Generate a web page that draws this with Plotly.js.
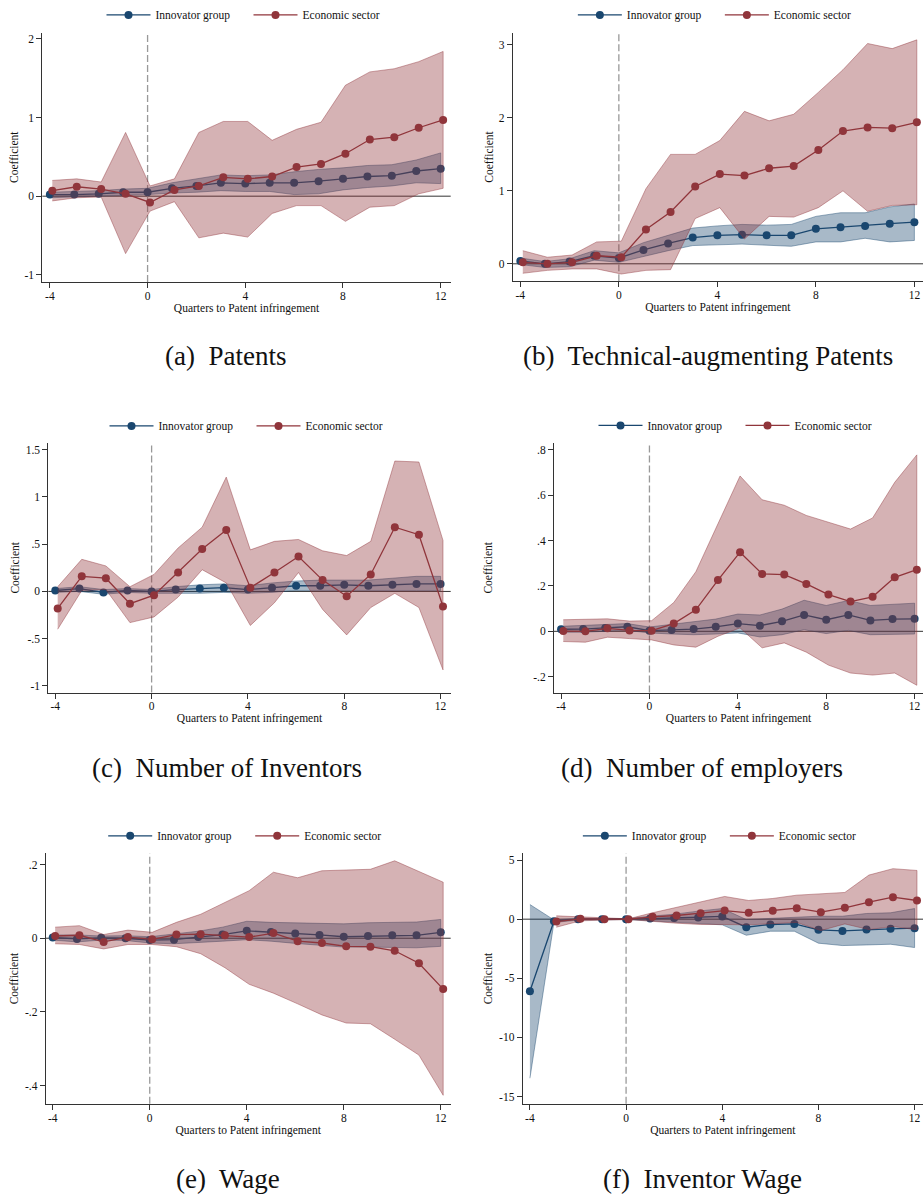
<!DOCTYPE html>
<html><head><meta charset="utf-8">
<script src="https://cdn.plot.ly/plotly-3.0.1.min.js"></script>
<style>html,body{margin:0;padding:0;background:#fff;overflow:hidden}#chart{width:923px;height:1196px}</style>
</head><body><div id="chart"></div>
<script>
// ---------------- DATA ----------------
const quarters = [-4,-3,-2,-1,0,1,2,3,4,5,6,7,8,9,10,11,12];
const xTickVals = [-4,0,4,8,12];
const xTickText = ['-4','0','4','8','12'];
const seriesNames = ['Innovator group','Economic sector'];
const xTitle = 'Quarters to Patent infringement';
const yTitle = 'Coefficient';
const captions = ['(a)\u00a0 Patents','(b)\u00a0 Technical-augmenting Patents','(c)\u00a0 Number of Inventors','(d)\u00a0 Number of employers','(e)\u00a0 Wage','(f)\u00a0 Inventor Wage'];

// (a) Patents
const aInn   = [0.02,0.02,0.03,0.05,0.05,0.10,0.13,0.17,0.16,0.17,0.17,0.19,0.22,0.25,0.26,0.32,0.35];
const aInnLo = [-0.02,-0.01,0.00,0.01,0.02,0.04,0.05,0.07,0.06,0.06,0.02,0.03,0.08,0.11,0.13,0.17,0.16];
const aInnHi = [0.05,0.06,0.07,0.09,0.10,0.17,0.22,0.27,0.26,0.27,0.31,0.34,0.36,0.39,0.40,0.46,0.55];
const aEco   = [0.07,0.12,0.09,0.03,-0.08,0.08,0.13,0.24,0.22,0.25,0.37,0.41,0.54,0.72,0.75,0.87,0.97];
const aEcoLo = [-0.06,-0.02,-0.01,-0.73,-0.19,-0.07,-0.53,-0.47,-0.52,-0.22,-0.12,-0.12,-0.32,-0.14,-0.12,0.03,0.10];
const aEcoHi = [0.20,0.22,0.18,0.81,0.13,0.22,0.81,0.95,0.95,0.71,0.85,0.94,1.41,1.58,1.62,1.71,1.84];
const aYTicks = [-1,0,1,2];
const aYText  = ['-1','0','1','2'];

// (b) Technical-augmenting Patents
const bInn   = [0.04,0.00,0.03,0.11,0.08,0.19,0.28,0.36,0.39,0.40,0.39,0.39,0.48,0.50,0.52,0.55,0.57];
const bInnLo = [-0.01,-0.05,-0.04,0.05,0.02,0.10,0.18,0.25,0.26,0.27,0.25,0.24,0.30,0.30,0.35,0.30,0.32];
const bInnHi = [0.08,0.03,0.07,0.18,0.15,0.29,0.39,0.49,0.52,0.54,0.53,0.54,0.65,0.70,0.70,0.78,0.82];
const bEco   = [0.02,0.00,0.02,0.11,0.09,0.47,0.71,1.06,1.23,1.21,1.31,1.34,1.56,1.82,1.87,1.86,1.94];
const bEcoLo = [-0.13,-0.09,-0.07,-0.07,-0.14,-0.09,-0.08,0.62,0.77,0.34,0.65,0.64,0.77,1.00,0.72,0.80,0.81];
const bEcoHi = [0.18,0.09,0.12,0.30,0.31,1.03,1.50,1.50,1.69,2.09,1.96,2.05,2.35,2.66,3.02,2.95,3.07];
const bYTicks = [0,1,2,3];
const bYText  = ['0','1','2','3'];

// (c) Number of Inventors
const cInn   = [0.01,0.03,-0.01,0.01,0.00,0.02,0.03,0.04,0.02,0.04,0.06,0.06,0.07,0.06,0.07,0.08,0.08];
const cInnLo = [-0.01,0.00,-0.03,-0.01,-0.02,-0.02,-0.02,-0.01,-0.02,-0.01,0.01,0.01,0.01,0.01,0.01,0.01,0.01];
const cInnHi = [0.03,0.05,0.02,0.03,0.02,0.05,0.07,0.08,0.06,0.09,0.11,0.12,0.12,0.12,0.14,0.16,0.16];
const cEco   = [-0.18,0.16,0.14,-0.13,-0.04,0.20,0.45,0.65,0.04,0.20,0.37,0.12,-0.05,0.18,0.68,0.60,-0.16];
const cEcoLo = [-0.40,0.01,0.02,-0.33,-0.27,-0.06,0.23,0.09,-0.36,-0.12,0.20,-0.19,-0.46,-0.17,-0.02,-0.17,-0.83];
const cEcoHi = [0.05,0.34,0.27,0.05,0.18,0.46,0.68,1.21,0.44,0.53,0.55,0.43,0.38,0.53,1.38,1.37,0.54];
const cYTicks = [-1,-0.5,0,0.5,1,1.5];
const cYText  = ['-1','-.5','0','.5','1','1.5'];

// (d) Number of employers
const dInn   = [0.009,0.010,0.015,0.020,0.003,0.006,0.010,0.020,0.034,0.025,0.044,0.072,0.051,0.072,0.048,0.054,0.055];
const dInnLo = [-0.004,-0.004,0.000,0.004,-0.007,-0.012,-0.015,-0.012,-0.007,-0.025,-0.015,0.007,-0.010,0.004,-0.015,-0.012,-0.012];
const dInnHi = [0.022,0.025,0.028,0.034,0.019,0.031,0.044,0.054,0.076,0.072,0.098,0.137,0.114,0.136,0.114,0.120,0.124];
const dEco   = [0.001,0.000,0.013,0.004,0.003,0.034,0.095,0.226,0.349,0.253,0.250,0.209,0.162,0.131,0.152,0.238,0.272];
const dEcoLo = [-0.045,-0.048,-0.026,-0.032,-0.038,-0.060,-0.070,-0.022,0.015,-0.073,-0.051,-0.092,-0.149,-0.184,-0.193,-0.184,-0.238];
const dEcoHi = [0.051,0.054,0.055,0.045,0.047,0.127,0.263,0.474,0.685,0.580,0.556,0.511,0.482,0.451,0.500,0.657,0.778];
const dYTicks = [-0.2,0,0.2,0.4,0.6,0.8];
const dYText  = ['-.2','0','.2','.4','.6','.8'];

// (e) Wage
const eInn   = [0.002,-0.002,0.001,0.000,-0.005,-0.004,0.003,0.010,0.020,0.017,0.013,0.009,0.004,0.006,0.008,0.008,0.016];
const eInnLo = [-0.005,-0.010,-0.005,-0.006,-0.013,-0.015,-0.012,-0.008,-0.004,-0.008,-0.014,-0.020,-0.024,-0.024,-0.024,-0.026,-0.022];
const eInnHi = [0.009,0.009,0.006,0.007,0.004,0.012,0.019,0.030,0.046,0.043,0.041,0.040,0.039,0.042,0.044,0.044,0.051];
const eEco   = [0.006,0.008,-0.010,0.003,-0.003,0.010,0.011,0.008,0.003,0.014,-0.008,-0.013,-0.022,-0.023,-0.034,-0.068,-0.138];
const eEcoLo = [-0.015,-0.017,-0.029,-0.017,-0.017,-0.023,-0.042,-0.080,-0.125,-0.149,-0.178,-0.208,-0.230,-0.232,-0.274,-0.317,-0.426];
const eEcoHi = [0.030,0.034,0.010,0.022,0.016,0.043,0.065,0.098,0.129,0.179,0.164,0.183,0.186,0.187,0.210,0.182,0.152];
const eYTicks = [-0.4,-0.2,0,0.2];
const eYText  = ['-.4','-.2','0','.2'];

// (f) Inventor Wage
const fInn   = [-6.10,-0.17,0.00,0.00,0.00,0.05,0.10,0.14,0.23,-0.68,-0.45,-0.40,-0.90,-0.99,-0.88,-0.82,-0.76];
const fInnLo = [-13.45,-0.28,-0.08,-0.06,-0.03,-0.17,-0.25,-0.37,-0.48,-1.36,-1.02,-1.02,-2.03,-2.23,-2.18,-2.12,-2.40];
const fInnHi = [1.24,-0.06,0.08,0.06,0.03,0.25,0.42,0.68,0.90,-0.03,0.06,0.11,0.25,0.25,0.48,0.54,0.90];
const fEco   = [null,-0.20,0.03,0.00,0.00,0.20,0.31,0.51,0.73,0.54,0.71,0.93,0.59,0.96,1.44,1.86,1.58];
const fEcoLo = [null,-0.68,-0.14,-0.08,-0.03,-0.20,-0.34,-0.45,-0.45,-0.48,-0.37,-0.28,-0.96,-0.40,-0.88,-0.62,-0.90];
const fEcoHi = [null,0.28,0.20,0.11,0.03,0.54,1.02,1.50,1.92,1.58,1.75,2.03,2.15,2.26,3.73,4.27,4.12];
const fYTicks = [-15,-10,-5,0,5];
const fYText  = ['-15','-10','-5','0','5'];

const eventQuarter = 0;
const zeroEffect = 0;

// ---------------- STYLE / LAYOUT ----------------
const W = 923, H = 1196;
const FONT = 'Liberation Serif, Times New Roman, serif';
const NAVY = '#1a476f', MAROON = '#90353b';
const NAVY_FILL = 'rgba(26,71,111,0.38)', MAROON_FILL = 'rgba(144,53,59,0.38)';
const NAVY_EDGE = 'rgba(26,71,111,0.55)', MAROON_EDGE = 'rgba(144,53,59,0.55)';
const ECO_SHIFT = 0.1; // horizontal dodge of the second series

const panelData = [
  [aInn,aInnLo,aInnHi,aEco,aEcoLo,aEcoHi,aYTicks,aYText],
  [bInn,bInnLo,bInnHi,bEco,bEcoLo,bEcoHi,bYTicks,bYText],
  [cInn,cInnLo,cInnHi,cEco,cEcoLo,cEcoHi,cYTicks,cYText],
  [dInn,dInnLo,dInnHi,dEco,dEcoLo,dEcoHi,dYTicks,dYText],
  [eInn,eInnLo,eInnHi,eEco,eEcoLo,eEcoHi,eYTicks,eYText],
  [fInn,fInnLo,fInnHi,fEco,fEcoLo,fEcoHi,fYTicks,fYText]
];

const boxes = [
  {l:42.3, r:450.7, t:26.7,  b:277.3,  xr:[-4.31,12.41], yr:[-1.09,2.08],   legY:9,     capX:225, capY:352, so:3},
  {l:512.7,r:923,   t:26.7,  b:276.7,  xr:[-4.31,12.35], yr:[-0.24,3.17],   legY:9,     capX:708, capY:352, so:2},
  {l:48.3, r:450.7, t:439.3, b:690,    xr:[-4.29,12.42], yr:[-1.07,1.57],   legY:422,   capX:227, capY:766, so:3},
  {l:554,  r:923,   t:439.3, b:690,    xr:[-4.32,12.38], yr:[-0.27,0.83],   legY:421.5, capX:702, capY:766, so:38},
  {l:45.7, r:450.7, t:851.7, b:1103.3, xr:[-4.29,12.41], yr:[-0.449,0.23],  legY:834,   capX:228, capY:1179, so:3},
  {l:522.7,r:923,   t:851.7, b:1103.3, xr:[-4.30,12.35], yr:[-15.61,5.56],  legY:834,   capX:702, capY:1179, so:4}
];

function band(xs, lo, hi, fill, edge, xa, ya) {
  const px = [], py = [];
  for (let i = 0; i < xs.length; i++) if (lo[i] != null && hi[i] != null) { px.push(xs[i]); py.push(hi[i]); }
  for (let i = xs.length - 1; i >= 0; i--) if (lo[i] != null && hi[i] != null) { px.push(xs[i]); py.push(lo[i]); }
  return {type:'scatter', mode:'lines', x:px, y:py, fill:'toself', fillcolor:fill,
          line:{color:edge, width:0.8}, xaxis:xa, yaxis:ya, hoverinfo:'skip', showlegend:false};
}

const traces = [];
const layout = {
  width: W, height: H, margin:{l:0,r:0,t:0,b:0},
  paper_bgcolor:'#fff', plot_bgcolor:'rgba(0,0,0,0)',
  font:{family:FONT, size:11.5, color:'#111'},
  shapes:[], annotations:[]
};

panelData.forEach((pd, k) => {
  const [inn, innLo, innHi, eco, ecoLo, ecoHi, yT, yTT] = pd;
  const bx = boxes[k];
  const sfx = k === 0 ? '' : String(k + 1);
  const xa = 'x' + sfx, ya = 'y' + sfx, lg = 'legend' + sfx;
  const xEco = quarters.map(q => q + ECO_SHIFT);

  traces.push(band(quarters, innLo, innHi, NAVY_FILL, NAVY_EDGE, xa, ya));
  traces.push({type:'scatter', mode:'lines+markers', name:seriesNames[0], x:quarters, y:inn,
    line:{color:NAVY, width:1.3}, marker:{color:NAVY, size:8}, xaxis:xa, yaxis:ya, legend:lg, connectgaps:false});
  traces.push(band(xEco, ecoLo, ecoHi, MAROON_FILL, MAROON_EDGE, xa, ya));
  traces.push({type:'scatter', mode:'lines+markers', name:seriesNames[1], x:xEco, y:eco,
    line:{color:MAROON, width:1.3}, marker:{color:MAROON, size:8}, xaxis:xa, yaxis:ya, legend:lg, connectgaps:false});

  layout['xaxis' + sfx] = {
    domain:[bx.l / W, bx.r / W], range:bx.xr, anchor:ya,
    tickmode:'array', tickvals:xTickVals, ticktext:xTickText,
    showgrid:false, zeroline:false, showline:true, linecolor:'#333', linewidth:1,
    ticks:'outside', ticklen:5, tickcolor:'#333', ticklabelstandoff:-2,
    tickfont:{family:FONT, size:11.5, color:'#111'},
    title:{text:xTitle, font:{family:FONT, size:11.5, color:'#111'}, standoff:0}
  };
  layout['yaxis' + sfx] = {
    domain:[1 - bx.b / H, 1 - bx.t / H], range:bx.yr, anchor:xa,
    tickmode:'array', tickvals:yT, ticktext:yTT,
    showgrid:false, zeroline:false, showline:true, linecolor:'#333', linewidth:1,
    ticks:'outside', ticklen:5, tickcolor:'#333', tickfont:{family:FONT, size:11.5, color:'#111'},
    title:{text:yTitle, font:{family:FONT, size:11.5, color:'#111'}, standoff:bx.so}
  };
  layout[lg] = {
    orientation:'h', x:((bx.l + bx.r) / 2 + 2) / W, xanchor:'center', y:1 - bx.legY / H, yanchor:'middle',
    font:{family:FONT, size:11.5, color:'#111'}, bgcolor:'rgba(0,0,0,0)', itemwidth:44,
    entrywidthmode:'pixels', entrywidth:88
  };
  // reference lines: horizontal at zero effect, vertical dashed at event quarter
  layout.shapes.push({type:'line', xref:xa + ' domain', yref:ya, x0:0, x1:1, y0:zeroEffect, y1:zeroEffect,
    line:{color:'#333', width:1}, layer:'below'});
  layout.shapes.push({type:'line', xref:xa, yref:ya + ' domain', x0:eventQuarter, x1:eventQuarter, y0:0, y1:1,
    line:{color:'#999', width:1.3, dash:'7px,3px'}, layer:'below'});
  layout.annotations.push({text:captions[k], xref:'paper', yref:'paper', x:bx.capX / W, y:1 - bx.capY / H,
    xanchor:'center', yanchor:'middle', showarrow:false, font:{family:FONT, size:27, color:'#111'}});
});

Plotly.newPlot('chart', traces, layout, {staticPlot:true, displayModeBar:false});
</script>
</body></html>
